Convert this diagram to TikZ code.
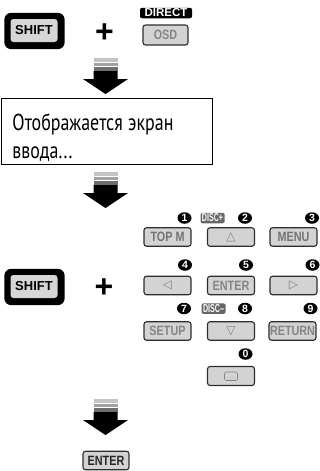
\documentclass[tikz,border=0pt]{standalone}
\usepackage{fontspec}
\setmainfont{Liberation Sans}
\newfontfamily\msgfont{PT Sans}[FakeStretch=0.78]
\newfontfamily\keyfont{Liberation Sans}[FakeStretch=0.8]
\newfontfamily\disfont{Liberation Sans}[FakeStretch=0.62]
\newfontfamily\symfont{DejaVu Sans}
\newcommand\myfixspace{\spaceskip=5.5pt\relax}
\usetikzlibrary{shapes.geometric,calc,backgrounds}
\definecolor{keyfill}{HTML}{D3D3D3}
\definecolor{keyline}{HTML}{2E2E2E}
\definecolor{keytext}{HTML}{858585}
\definecolor{shiftfill}{HTML}{D6D6D6}
\definecolor{discgray}{HTML}{666666}
\definecolor{stripeA}{HTML}{C4C4C4}
\definecolor{stripeB}{HTML}{A2A2A2}
\definecolor{stripeC}{HTML}{6E6E6E}
\tikzset{
  keybtn/.style={draw=keyline, line width=1.1pt, fill=keyfill, rounded corners=2.5pt,
    minimum width=47pt, minimum height=18.5pt, inner sep=0pt, text=keytext,
    font=\keyfont\bfseries\fontsize{13.5}{13.5}\selectfont},
  symbtn/.style={keybtn, font=\symfont\fontsize{12}{12}\selectfont},
  numdot/.style={ellipse, fill=black, minimum width=14pt, minimum height=11.5pt, inner sep=0pt,
    text=white, font=\bfseries\fontsize{10.5}{10.5}\selectfont},
  disclbl/.style={fill=discgray, rounded corners=1.5pt, inner sep=0pt, minimum width=24pt,
    minimum height=10.5pt, text=white, font=\disfont\bfseries\fontsize{11.5}{11.5}\selectfont},
  shiftkey/.style={fill=shiftfill, rounded corners=3pt, minimum width=47pt, minimum height=23pt,
    inner sep=0pt, font=\bfseries\fontsize{13}{13}\selectfont},
  plussign/.style={inner sep=0pt, font=\bfseries\fontsize{32}{32}\selectfont},
  bigdown/.pic={
    \fill[stripeA] (-12,0) rectangle (12,3.5);
    \fill[stripeB] (-12,4.5) rectangle (12,8);
    \fill[stripeC] (-12,9) rectangle (12,13);
    \fill[black] (-12,13) -- (12,13) -- (12,21) -- (22.5,21) -- (0,36) -- (-22.5,21) -- (-12,21) -- cycle;
  }
}
\begin{document}
\begin{tikzpicture}[x=1pt,y=-1pt]
\path[use as bounding box] (0,0) rectangle (320,471);
% step 1
\node[shiftkey] (shift1) at (34,30.5) {SHIFT};
\node[plussign] (plus1) at (104.5,33) {+};
\node[fill=black, rounded corners=2pt, minimum width=52pt, minimum height=10.5pt, inner sep=0pt,
  text=white, font=\bfseries\fontsize{11.5}{11.5}\selectfont] (direct) at (166,13) {DIRECT};
\node[keybtn, minimum width=45pt, minimum height=20pt] (osd) at (165.5,35) {OSD};
\pic at (105.5,58) {bigdown};
% message box
\node[draw, line width=1pt, anchor=north west, text width=188pt, inner xsep=11.5pt, inner ysep=0pt,
  align=left, font=\msgfont\fontsize{23}{27.7}\selectfont] (msg) at (0.5,98)
  {\myfixspace\rule{0pt}{32pt}Отображается экран\\ввода...\rule[-6.3pt]{0pt}{6.3pt}};
\pic at (105.5,172) {bigdown};
% step 2
\node[shiftkey] (shift2) at (34,286.5) {SHIFT};
\node[plussign] (plus2) at (104,288) {+};
% row 1
\node[keybtn, text=black!55] (k1) at (167.5,237) {TOP M};
\node[symbtn] (k2) at (231,237) {△};
\node[keybtn, text=black!55] (k3) at (293.5,237) {MENU};
\node[numdot] (n1) at (184.5,218) {1};
\node[disclbl] (discp) at (212.5,218) {DISC+};
\node[numdot] (n2) at (245,218) {2};
\node[numdot] (n3) at (312,218) {3};
% row 2
\node[symbtn] (k4) at (167.5,285.5) {◁};
\node[keybtn] (k5) at (231,285.5) {ENTER};
\node[symbtn] (k6) at (293.5,285.5) {▷};
\node[numdot] (n4) at (185,265) {4};
\node[numdot] (n5) at (246,265) {5};
\node[numdot] (n6) at (312.5,265) {6};
% row 3
\node[keybtn] (k7) at (167.5,331) {SETUP};
\node[symbtn] (k8) at (231,331) {▽};
\node[keybtn] (k9) at (292.5,331) {RETURN};
\node[numdot] (n7) at (184,308.5) {7};
\node[disclbl] (discm) at (213.5,308.5) {DISC–};
\node[numdot] (n8) at (245,308.5) {8};
\node[numdot] (n9) at (310.5,308.5) {9};
% row 4
\node[keybtn, minimum height=19pt] (k0) at (231,376) {};
\node[numdot] (n0) at (245.5,354) {0};
\draw[keytext, line width=0.6pt, rounded corners=2pt] ($(k0.center)+(-6.5,-4)$) rectangle ($(k0.center)+(6.5,4.5)$);
\foreach \dx in {-3,-1,1,3} \fill[keytext] ($(k0.center)+(\dx,2)$) circle (0.45pt);
\pic at (105.5,399) {bigdown};
% final
\node[keybtn, minimum width=46pt, text=black!85] (enter) at (106,460.5) {ENTER};
\begin{pgfonlayer}{background}
  \fill[black, rounded corners=7pt] ($(shift1.north west)+(-6,-6)$) rectangle ($(shift1.south east)+(7,7)$);
  \fill[black, rounded corners=7pt] ($(shift2.north west)+(-6,-6)$) rectangle ($(shift2.south east)+(7,7)$);
\end{pgfonlayer}
\end{tikzpicture}
\end{document}
